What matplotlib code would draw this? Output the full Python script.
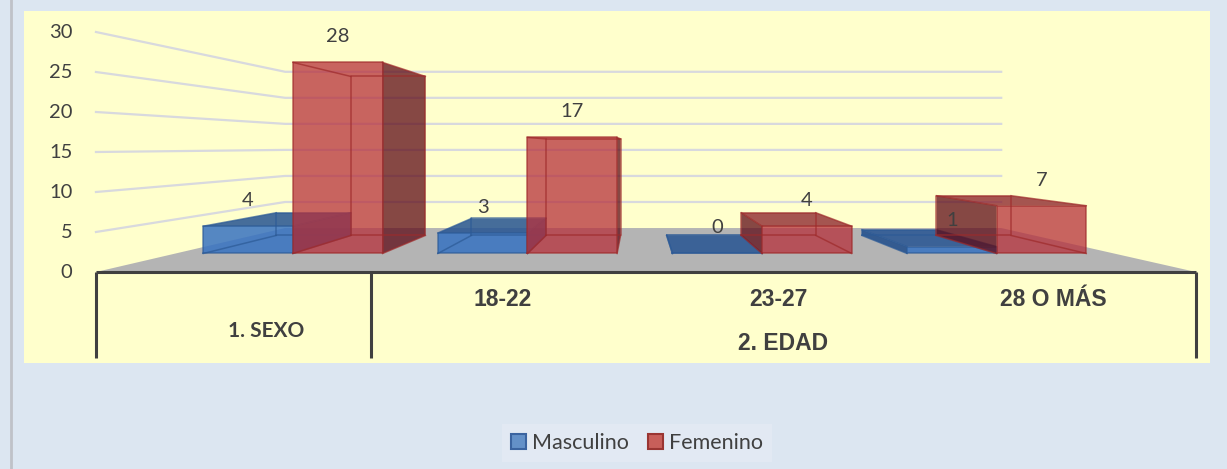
import matplotlib.pyplot as plt
from matplotlib.patches import Polygon, Rectangle, Patch
from matplotlib.lines import Line2D

# data
group_labels = ['1. SEXO', '2. EDAD']
categories = ['', '18-22', '23-27', '28 O MÁS']
masculino = [4, 3, 0, 1]
femenino = [28, 17, 4, 7]
yticks = [0, 5, 10, 15, 20, 25, 30]

W, H = 1227, 469
fig = plt.figure(figsize=(W / 100, H / 100), dpi=100)
fig.patch.set_facecolor('#DCE6F1')
ax = fig.add_axes([0, 0, 1, 1])
ax.set_facecolor('none')
ax.set_xlim(-0.849, 3.613)
ax.set_ylim(-24.625, 34)
ax.axis('off')

# yellow chart area + left border
ax.add_patch(Rectangle((24 / W, 1 - 363 / H), (1210 - 24) / W, (363 - 11) / H,
                       transform=fig.transFigure, facecolor='#FFFFCC',
                       edgecolor='none', zorder=0))
ax.add_line(Line2D([11 / W, 11 / W], [0, 1], transform=fig.transFigure,
                   color='#BFC2C8', lw=2, zorder=0))

# fake 3d projection: vanishing point in data units, depth fractions
VPX, VPY = 1.471, 15.75
T_FRONT, T_BACK, T_WALL = 0.147, 0.29, 0.349


def proj(c, v, t):
    return (c + (VPX - c) * t, v + (VPY - v) * t)


TXT = '#404040'
ncat = len(categories)
left, right = -0.5, ncat - 0.5

# walls gridlines
for v in yticks[1:]:
    p0 = proj(left, v, 0)
    p1 = proj(left, v, T_WALL)
    p2 = proj(right, v, T_WALL)
    ax.plot([p0[0], p1[0], p2[0]], [p0[1], p1[1], p2[1]], color='#D8D9DE', lw=1.6, zorder=1)

# floor
floor = [proj(left, 0, 0), proj(right, 0, 0), proj(right, 0, T_WALL), proj(left, 0, T_WALL)]
ax.add_patch(Polygon(floor, closed=True, facecolor='#B4B4B4', edgecolor='none', zorder=2))

# y tick labels
for v in yticks:
    ax.annotate(str(v), (left, v), xytext=(-17, 0), textcoords='offset points',
                ha='right', va='center', fontsize=14.5, family='Lato', color=TXT)

styles = {
    'm': dict(front='#3772C1', side='#1E4C8A', top='#265492', edge='#2C5A96', alpha=0.85),
    'f': dict(front='#B6303B', side='#5E0A16', top='#871C27', edge='#9E2A2A', alpha=0.75),
}


def draw_box(c0, c1, v, st, z):
    a = st['alpha']
    # front face through bar
    x0, y0 = proj(c0, 0, T_FRONT)
    ax.bar(x0, v * (1 - T_FRONT), width=(c1 - c0) * (1 - T_FRONT), bottom=y0,
           align='edge', color=st['front'], alpha=a, edgecolor='none', zorder=z)
    # top face, seen only when below eye level
    if v < VPY:
        top = [proj(c0, v, T_FRONT), proj(c1, v, T_FRONT), proj(c1, v, T_BACK), proj(c0, v, T_BACK)]
        ax.add_patch(Polygon(top, closed=True, facecolor=st['top'], alpha=a,
                             edgecolor='none', zorder=z))
    # visible side face
    cs = None
    if c1 < VPX:
        cs = c1
    elif c0 > VPX:
        cs = c0
    if cs is not None and v > 0:
        side = [proj(cs, 0, T_FRONT), proj(cs, v, T_FRONT), proj(cs, v, T_BACK), proj(cs, 0, T_BACK)]
        ax.add_patch(Polygon(side, closed=True, facecolor=st['side'], alpha=a,
                             edgecolor='none', zorder=z))
    # all edges (transparent box)
    for t in (T_FRONT, T_BACK):
        pts = [proj(c0, 0, t), proj(c1, 0, t), proj(c1, v, t), proj(c0, v, t), proj(c0, 0, t)]
        ax.plot([p[0] for p in pts], [p[1] for p in pts], color=st['edge'], lw=1.1,
                alpha=0.7, zorder=z + 0.1)
    for cc in (c0, c1):
        for vv in (0, v):
            p, q = proj(cc, vv, T_FRONT), proj(cc, vv, T_BACK)
            ax.plot([p[0], q[0]], [p[1], q[1]], color=st['edge'], lw=1.1, alpha=0.7,
                    zorder=z + 0.1)
    # data label
    lx, ly = proj((c0 + c1) / 2, v, T_FRONT)
    ax.annotate(str(v), (lx, ly), xytext=(0, 18.5), textcoords='offset points',
                ha='center', va='center', fontsize=14.5, family='Lato', color=TXT, zorder=10)


bw = 0.382
for i in range(ncat):
    draw_box(i - bw, i, masculino[i], styles['m'], 3)
    draw_box(i, i + bw, femenino[i], styles['f'], 4)

# category axis: line and separators
ax.plot([left, right], [0, 0], color='#404040', lw=2.2, zorder=5, solid_capstyle='butt')
for c in (left, left + 1, right):
    ax.plot([c, c], [0, -10.75], color='#404040', lw=2.2, zorder=5, solid_capstyle='butt')

for i, lab in enumerate(categories):
    if lab:
        ax.text(i - 0.02, -3.5, lab, ha='center', va='center', fontsize=16.5,
                family='Liberation Sans', weight='bold', color=TXT)
ax.text(0.12, -7.4, group_labels[0], ha='center', va='center', fontsize=15,
        family='Lato', weight='bold', color=TXT)
ax.text((1 + ncat - 1) / 2, -8.9, group_labels[1], ha='center', va='center', fontsize=16.5,
        family='Liberation Sans', weight='bold', color=TXT)

# legend
handles = [Patch(facecolor='#6491C8', edgecolor='#3B64A0', lw=1.5),
           Patch(facecolor='#C85F5A', edgecolor='#9A3532', lw=1.5)]
leg = fig.legend(handles, ['Masculino', 'Femenino'], loc='center',
                 bbox_to_anchor=(637 / W, 1 - 443 / H), ncol=2, frameon=True,
                 prop={'family': 'Lato', 'size': 15.5}, handlelength=0.7, handleheight=0.7,
                 handletextpad=0.3, columnspacing=0.85, borderpad=0.4, fancybox=False)
leg.get_frame().set_facecolor('#E4EAF4')
leg.get_frame().set_edgecolor('none')
for t in leg.get_texts():
    t.set_color(TXT)

fig.savefig('out.png', dpi=100, facecolor=fig.get_facecolor())
